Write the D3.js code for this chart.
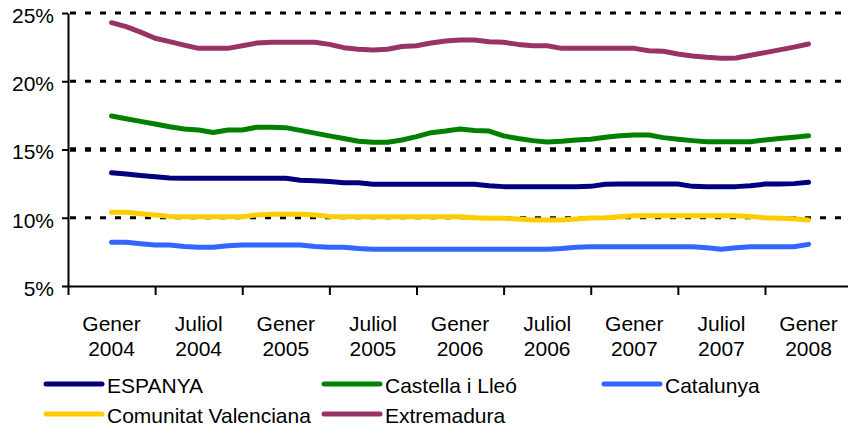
<!DOCTYPE html>
<html>
<head>
<meta charset="utf-8">
<script src="https://cdn.jsdelivr.net/npm/d3@7"></script>
<style>
  body { margin: 0; background: #fff; }
  svg { display: block; }
  text { font-family: "Liberation Sans", Arial, sans-serif; fill: #000; }
</style>
</head>
<body>
<div id="chart"></div>
<script>
// monthly series, Gener 2004 .. Gener 2008 (49 months)
var espanya = [13.3, 13.2, 13.1, 13.0, 12.92, 12.89, 12.89, 12.89, 12.89, 12.89,
  12.89, 12.89, 12.89, 12.75, 12.71, 12.65, 12.57, 12.57, 12.45, 12.45,
  12.45, 12.45, 12.45, 12.45, 12.45, 12.45, 12.35, 12.28, 12.28, 12.28,
  12.28, 12.28, 12.28, 12.3, 12.45, 12.47, 12.47, 12.47, 12.47, 12.47,
  12.3, 12.28, 12.28, 12.28, 12.35, 12.47, 12.47, 12.5, 12.6];
var castella = [17.45, 17.25, 17.06, 16.87, 16.67, 16.5, 16.43, 16.25, 16.43, 16.43,
  16.63, 16.63, 16.6, 16.4, 16.2, 16.0, 15.8, 15.6, 15.53, 15.53,
  15.7, 15.94, 16.23, 16.35, 16.5, 16.4, 16.35, 16.0, 15.8, 15.65,
  15.55, 15.6, 15.7, 15.75, 15.9, 16.0, 16.06, 16.06, 15.87, 15.75,
  15.65, 15.57, 15.57, 15.57, 15.57, 15.7, 15.8, 15.9, 16.0];
var catalunya = [8.2, 8.2, 8.1, 8.0, 8.0, 7.9, 7.84, 7.84, 7.95, 8.0,
  8.0, 8.0, 8.0, 8.0, 7.9, 7.84, 7.84, 7.75, 7.69, 7.69,
  7.69, 7.69, 7.69, 7.69, 7.69, 7.69, 7.69, 7.69, 7.69, 7.69,
  7.69, 7.75, 7.84, 7.88, 7.88, 7.88, 7.88, 7.88, 7.88, 7.88,
  7.88, 7.8, 7.69, 7.8, 7.88, 7.88, 7.88, 7.88, 8.05];
var valenciana = [10.4, 10.4, 10.3, 10.2, 10.1, 10.08, 10.08, 10.08, 10.08, 10.08,
  10.2, 10.25, 10.25, 10.25, 10.2, 10.1, 10.08, 10.08, 10.08, 10.08,
  10.08, 10.08, 10.08, 10.08, 10.08, 10.0, 9.96, 9.96, 9.9, 9.84,
  9.84, 9.84, 9.9, 9.98, 10.0, 10.08, 10.15, 10.15, 10.15, 10.15,
  10.15, 10.15, 10.15, 10.15, 10.1, 10.0, 9.96, 9.92, 9.84];
var extremadura = [24.29, 24.0, 23.6, 23.15, 22.9, 22.65, 22.41, 22.41, 22.41, 22.6,
  22.8, 22.85, 22.85, 22.85, 22.85, 22.7, 22.46, 22.35, 22.29, 22.35,
  22.55, 22.6, 22.8, 22.95, 23.02, 23.02, 22.9, 22.85, 22.7, 22.6,
  22.6, 22.41, 22.41, 22.41, 22.41, 22.41, 22.41, 22.24, 22.2, 22.0,
  21.85, 21.75, 21.68, 21.7, 21.9, 22.1, 22.3, 22.5, 22.73];

var seriesNames = ["ESPANYA", "Castella i Lleó", "Catalunya", "Comunitat Valenciana", "Extremadura"];
var seriesColors = ["#000080", "#008000", "#3366ff", "#ffcc00", "#993366"];
var seriesValues = [espanya, castella, catalunya, valenciana, extremadura];

var monthLabels = ["Gener", "Juliol", "Gener", "Juliol", "Gener", "Juliol", "Gener", "Juliol", "Gener"];
var yearLabels = ["2004", "2004", "2005", "2005", "2006", "2006", "2007", "2007", "2008"];
var yTicks = [5, 10, 15, 20, 25];

var w = 848, h = 432;

var svg = d3.select("#chart").append("svg")
  .attr("width", w)
  .attr("height", h);

// months counted from Gener 2004; axis starts 3 months earlier
var x = d3.scaleLinear().domain([-3, 51]).range([68, 852.1]);
var y = d3.scaleLinear().domain([5, 25]).range([286, 13]);

// dotted gridlines
svg.selectAll("line.grid")
  .data(yTicks.filter(function(d) { return d > 5; }))
  .enter().append("line")
  .attr("class", "grid")
  .attr("x1", 70).attr("x2", w)
  .attr("y1", function(d) { return y(d); })
  .attr("y2", function(d) { return y(d); })
  .attr("stroke", "#000")
  .attr("stroke-width", function(d) { return d === 15 ? 4.5 : 3; })
  .attr("stroke-dasharray", "6,9");

// y axis
var yAxis = d3.axisLeft(y)
  .tickValues(yTicks)
  .tickSize(6)
  .tickSizeOuter(0)
  .tickFormat(function(d) { return d + "%"; });

var gy = svg.append("g")
  .attr("transform", "translate(68,0)")
  .call(yAxis);
gy.select(".domain").attr("stroke", "#000").attr("stroke-width", 2);
gy.selectAll(".tick line").attr("stroke", "#000").attr("stroke-width", 2);
gy.selectAll(".tick text")
  .attr("x", -14)
  .attr("dy", "0.45em")
  .style("font-size", "21px")
  .style("font-family", "'Liberation Sans', Arial, sans-serif")
  .attr("fill", "#000");

// x axis: ticks every 6 months, between label positions
var tickIdx = d3.range(-3, 52, 6);
var xAxis = d3.axisBottom(x)
  .tickValues(tickIdx)
  .tickSize(9)
  .tickSizeOuter(0)
  .tickFormat("");

var gx = svg.append("g")
  .attr("transform", "translate(0,286)")
  .call(xAxis);
gx.select(".domain").attr("stroke", "#000").attr("stroke-width", 2);
gx.selectAll(".tick line").attr("stroke", "#000").attr("stroke-width", 2);

// category labels
var lbl = svg.selectAll("text.xlab")
  .data(monthLabels)
  .enter().append("text")
  .attr("class", "xlab")
  .attr("text-anchor", "middle")
  .style("font-size", "21px");
lbl.append("tspan")
  .attr("x", function(d, i) { return x(i * 6); })
  .attr("y", 331)
  .text(function(d) { return d; });
lbl.append("tspan")
  .attr("x", function(d, i) { return x(i * 6); })
  .attr("y", 356)
  .text(function(d, i) { return yearLabels[i]; });

// series lines
var line = d3.line()
  .x(function(d, i) { return x(i); })
  .y(function(d) { return y(d); });

svg.selectAll("path.series")
  .data(seriesValues)
  .enter().append("path")
  .attr("class", "series")
  .attr("d", line)
  .attr("fill", "none")
  .attr("stroke", function(d, i) { return seriesColors[i]; })
  .attr("stroke-width", 5)
  .attr("stroke-linejoin", "round")
  .attr("stroke-linecap", "round");

// legend
var legX = [46, 324, 604];
var legRowY = [384, 414];

var leg = svg.selectAll("g.leg")
  .data(seriesNames)
  .enter().append("g")
  .attr("class", "leg")
  .attr("transform", function(d, i) {
    return "translate(" + legX[i % 3] + "," + legRowY[Math.floor(i / 3)] + ")";
  });

leg.append("line")
  .attr("x1", 0).attr("x2", 56)
  .attr("y1", 0).attr("y2", 0)
  .attr("stroke", function(d, i) { return seriesColors[i]; })
  .attr("stroke-width", 5)
  .attr("stroke-linecap", "round");

leg.append("text")
  .attr("x", 61)
  .attr("y", 9)
  .style("font-size", "21px")
  .text(function(d) { return d; });
</script>
</body>
</html>
